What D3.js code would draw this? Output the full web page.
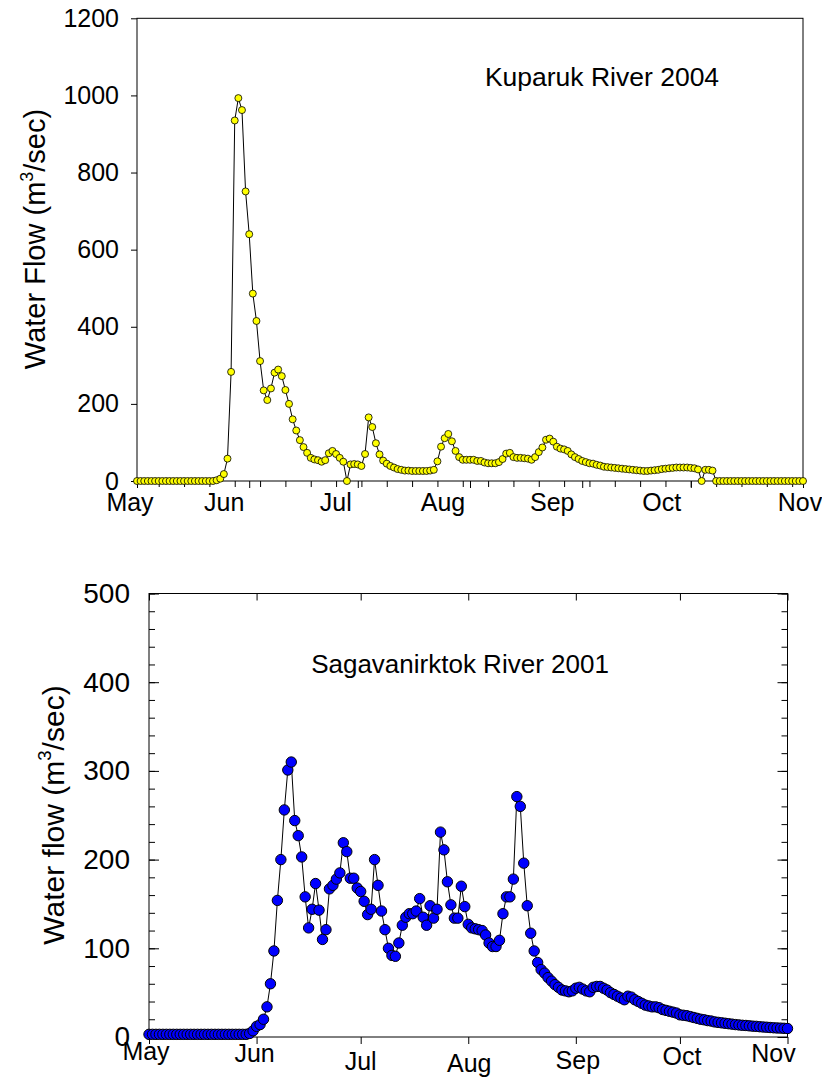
<!DOCTYPE html>
<html>
<head>
<meta charset="utf-8">
<script src="https://cdn.jsdelivr.net/npm/d3@7"></script>
<style>
  body { margin: 0; background: #fff; }
  svg text { font-family: "Liberation Sans", Arial, sans-serif; fill: #000; }
</style>
</head>
<body>
<svg id="chart" width="822" height="1091"></svg>
<script>
// ---- data -------------------------------------------------------------
const monthLabels = ["May", "Jun", "Jul", "Aug", "Sep", "Oct", "Nov"];

// Kuparuk River, daily mean discharge (m3/s) starting 1 May 2004
const kuparukStart = "2004-05-01";
const kuparukFlow = [
  0, 0, 0, 0, 0, 0, 0, 0, 0, 0, 0, 0, 0, 0, 0, 0, 0, 0, 0, 0, 0, 0,
  2, 6, 18, 58, 283, 935, 993, 962, 751, 640, 486, 415, 311, 235, 210, 240,
  281, 289, 272, 236, 200, 160, 131, 106, 88, 73, 60, 56, 54, 50, 54, 72,
  78, 70, 60, 50, 0, 43, 44, 43, 39, 70, 165, 140, 98, 69, 53, 45,
  39, 35, 31, 29, 27, 27, 26, 26, 26, 26, 26, 27, 29, 51, 89, 111,
  122, 103, 78, 62, 55, 55, 55, 55, 52, 52, 48, 46, 46, 46, 49, 57,
  71, 73, 62, 60, 60, 59, 58, 55, 62, 75, 87, 107, 110, 102, 89, 84,
  82, 78, 69, 62, 57, 52, 49, 46, 45, 42, 40, 37, 36, 35, 34, 33,
  32, 31, 30, 29, 28, 27, 26, 26, 27, 28, 29, 31, 32, 33, 34, 35,
  35, 35, 35, 34, 33, 30, 0, 29, 29, 27,
  0, 0, 0, 0, 0, 0, 0, 0, 0, 0, 0, 0, 0, 0, 0, 0, 0, 0, 0, 0, 0, 0, 0, 0, 0
];
const kuparukYTicks = [0, 200, 400, 600, 800, 1000, 1200];

// Sagavanirktok River, daily mean discharge (m3/s) starting 1 May 2001
const sagStart = "2001-05-01";
const sagFlow = [
  3, 3, 3, 3, 3, 3, 3, 3, 3, 3, 3, 3, 3, 3, 3, 3, 3, 3, 3, 3, 3, 3, 3, 3, 3, 3, 3, 3, 3,
  4, 7, 12, 14, 20, 34, 60, 97, 154, 200, 256, 301, 310, 244, 227, 203, 158,
  123, 144, 173, 143, 110, 121, 167, 171, 178, 185, 219, 209, 179, 179, 168, 164,
  153, 138, 144, 200, 171, 142, 121, 100, 92, 91, 106, 126, 135, 139, 139, 142,
  156, 135, 126, 148, 134, 144, 231, 211, 175, 149, 134, 134, 170, 147, 127, 123,
  122, 121, 120, 115, 106, 102, 102, 109, 139, 158, 158, 178, 271, 260, 196, 148,
  117, 97, 84, 76, 72, 67, 63,
  59, 56, 53, 52, 51, 52, 55, 56, 54, 52, 51, 56, 57, 57, 55, 53, 50, 48, 46, 44,
  42, 46, 45, 42, 40, 38, 36, 35, 34, 34, 33, 31, 30, 29, 28, 27, 25, 24.5, 24, 23,
  22, 21, 20, 19.4, 18.5, 18, 17, 16.5, 16, 15.5, 15, 14.5, 14, 13.6, 13.2, 13,
  12.6, 12.2, 12, 11.6, 11.3, 11, 10.7, 10.4, 10.2, 10, 9.8, 9.6
];
const sagYTicks = [0, 100, 200, 300, 400, 500];
const sagYMinor = d3.range(0, 501, 20);

// ---- helpers ------------------------------------------------------------
const svg = d3.select("#chart");
const parse = d3.timeParse("%Y-%m-%d");

function toSeries(start, values) {
  const d0 = parse(start);
  return values.map((v, i) => ({ date: d3.timeDay.offset(d0, i), v }));
}

function styleAxis(g, size) {
  g.attr("font-family", null).attr("font-size", null);
  g.selectAll("text").attr("font-size", size);
  g.selectAll("line, path").attr("stroke", "#000").attr("stroke-width", 1);
}

function yTitle(g, text, cx, cy, size) {
  const t = g.append("text")
    .attr("transform", `translate(${cx},${cy}) rotate(-90)`)
    .attr("text-anchor", "middle")
    .attr("font-size", size);
  t.append("tspan").text(text + " (m");
  t.append("tspan").attr("font-size", size * 0.62).attr("dy", -size * 0.42).text("3");
  t.append("tspan").attr("dy", size * 0.42).text("/sec)");
}

// ---- Kuparuk River 2004 ---------------------------------------------------
{
  const series = toSeries(kuparukStart, kuparukFlow);
  const t0 = parse(kuparukStart);
  const t1 = d3.timeMonth.offset(t0, 6);
  const x = d3.scaleTime().domain([t0, t1]).range([137, 803]);
  const y = d3.scaleLinear().domain([0, 1200]).range([481, 18.3]);
  const g = svg.append("g");
  const months = d3.timeMonth.range(t0, d3.timeDay.offset(t1, 1));

  // frame
  g.append("rect")
    .attr("x", x.range()[0]).attr("y", y.range()[1])
    .attr("width", x.range()[1] - x.range()[0])
    .attr("height", y.range()[0] - y.range()[1])
    .attr("fill", "none").attr("stroke", "#000").attr("stroke-width", 1);

  // weekly ticks and month ticks under the x axis
  g.append("g").attr("transform", `translate(0,${y(0)})`)
    .call(d3.axisBottom(x).tickValues(d3.timeFriday.range(t0, t1)).tickSize(6).tickFormat(""))
    .call(a => a.select(".domain").remove())
    .call(a => styleAxis(a, 25));
  g.append("g").attr("transform", `translate(0,${y(0)})`)
    .call(d3.axisBottom(x).tickValues(months).tickSize(7).tickFormat(""))
    .call(a => a.select(".domain").remove())
    .call(a => styleAxis(a, 25));

  // month names are set a little left of their ticks
  const labelShift = [-7, -25, -22, -27, -30, -29, -3];
  g.selectAll(".mlab").data(months).join("text")
    .attr("x", (d, i) => x(d) + labelShift[i]).attr("y", 511)
    .attr("text-anchor", "middle").attr("font-size", 25)
    .text((d, i) => monthLabels[i]);

  // y axis
  g.append("g").attr("transform", `translate(${x.range()[0]},0)`)
    .call(d3.axisLeft(y).tickValues(kuparukYTicks).tickSize(6).tickPadding(12).tickFormat(d3.format("d")))
    .call(a => a.select(".domain").remove())
    .call(a => styleAxis(a, 25));

  yTitle(g, "Water Flow", 45, 239, 29);

  g.append("text").attr("x", 602).attr("y", 86)
    .attr("text-anchor", "middle").attr("font-size", 26.5)
    .text("Kuparuk River 2004");

  // discharge line and daily markers
  g.append("path").datum(series)
    .attr("fill", "none").attr("stroke", "#000").attr("stroke-width", 1)
    .attr("d", d3.line().x(d => x(d.date)).y(d => y(d.v)));
  g.selectAll(".pt").data(series).join("circle")
    .attr("cx", d => x(d.date)).attr("cy", d => y(d.v)).attr("r", 3.5)
    .attr("fill", "#ffff00").attr("stroke", "#000").attr("stroke-width", 0.8);
}

// ---- Sagavanirktok River 2001 ---------------------------------------------
{
  const series = toSeries(sagStart, sagFlow);
  const t0 = parse(sagStart);
  const t1 = d3.timeMonth.offset(t0, 6);
  const x = d3.scaleTime().domain([t0, t1]).range([149, 787.5]);
  const y = d3.scaleLinear().domain([0, 500]).range([1037, 593.5]);
  const g = svg.append("g");
  const months = d3.timeMonth.range(t0, d3.timeDay.offset(t1, 1));

  g.append("rect")
    .attr("x", x.range()[0]).attr("y", y.range()[1])
    .attr("width", x.range()[1] - x.range()[0])
    .attr("height", y.range()[0] - y.range()[1])
    .attr("fill", "none").attr("stroke", "#000").attr("stroke-width", 1);

  // month ticks: outward at the bottom, inward at the top
  g.append("g").attr("transform", `translate(0,${y(0)})`)
    .call(d3.axisBottom(x).tickValues(months).tickSize(7).tickFormat(""))
    .call(a => a.select(".domain").remove())
    .call(a => styleAxis(a, 25));
  g.append("g").attr("transform", `translate(0,${y(500)})`)
    .call(d3.axisTop(x).tickValues(months).tickSize(-7).tickFormat(""))
    .call(a => a.select(".domain").remove())
    .call(a => styleAxis(a, 25));

  // month labels sit at slightly staggered heights
  const labelY = [1060, 1062, 1070, 1072, 1069, 1065, 1062];
  const labelShift = [-3, -2, 0, 1, 2, 2, -14];
  g.selectAll(".mlab").data(months).join("text")
    .attr("x", (d, i) => x(d) + labelShift[i])
    .attr("y", (d, i) => labelY[i])
    .attr("text-anchor", "middle").attr("font-size", 25)
    .text((d, i) => monthLabels[i]);

  // inward ticks on both sides: minor every 20, major every 100
  const xl = x.range()[0], xr = x.range()[1];
  g.append("g").attr("transform", `translate(${xl},0)`)
    .call(d3.axisLeft(y).tickValues(sagYMinor).tickSize(-6).tickFormat(""))
    .call(a => a.select(".domain").remove())
    .call(a => styleAxis(a, 28));
  g.append("g").attr("transform", `translate(${xl},0)`)
    .call(d3.axisLeft(y).tickValues(sagYTicks).tickSize(-10).tickPadding(19))
    .call(a => a.select(".domain").remove())
    .call(a => styleAxis(a, 28));
  g.append("g").attr("transform", `translate(${xr},0)`)
    .call(d3.axisRight(y).tickValues(sagYMinor).tickSize(-6).tickFormat(""))
    .call(a => a.select(".domain").remove())
    .call(a => styleAxis(a, 28));
  g.append("g").attr("transform", `translate(${xr},0)`)
    .call(d3.axisRight(y).tickValues(sagYTicks).tickSize(-10).tickFormat(""))
    .call(a => a.select(".domain").remove())
    .call(a => styleAxis(a, 28));

  yTitle(g, "Water flow", 64, 815, 30);

  g.append("text").attr("x", 460).attr("y", 673)
    .attr("text-anchor", "middle").attr("font-size", 26)
    .text("Sagavanirktok River 2001");

  g.append("path").datum(series)
    .attr("fill", "none").attr("stroke", "#000").attr("stroke-width", 1)
    .attr("d", d3.line().x(d => x(d.date)).y(d => y(d.v)));
  g.selectAll(".pt").data(series).join("circle")
    .attr("cx", d => x(d.date)).attr("cy", d => y(d.v)).attr("r", 5.2)
    .attr("fill", "#0000ff").attr("stroke", "#000").attr("stroke-width", 1);
}
</script>
</body>
</html>
